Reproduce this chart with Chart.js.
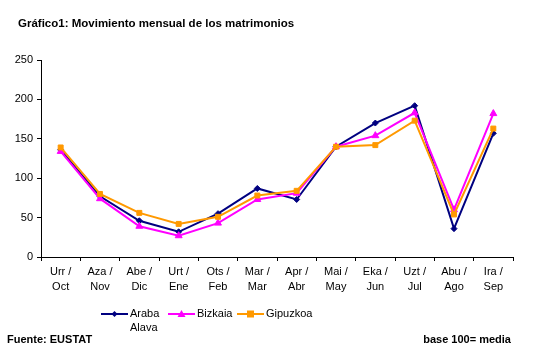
<!DOCTYPE html>
<html>
<head>
<meta charset="utf-8">
<script src="https://cdn.jsdelivr.net/npm/chart.js@4"></script>
<style>
  body { margin: 0; background: #fff; }
  #wrap { position: relative; width: 537px; height: 359px; font-family: "Liberation Sans", Arial, sans-serif; }
  #chart { position: absolute; left: 0; top: 0; }
  .txt { position: absolute; font-weight: bold; font-size: 11px; color: #000; white-space: nowrap; }
</style>
</head>
<body>
<div id="wrap">
  <canvas id="chart" width="537" height="359"></canvas>
  <div class="txt" style="left:18px; top:17px; font-size:11.5px;">Gráfico1: Movimiento mensual de los matrimonios</div>
  <div class="txt" style="left:7px; top:333px;">Fuente: EUSTAT</div>
  <div class="txt" style="right:26px; top:333px;">base 100= media</div>
</div>
<script>
// months: basque / spanish
const months = [
    ['Urr /', 'Oct'], ['Aza /', 'Nov'], ['Abe /', 'Dic'], ['Urt /', 'Ene'],
    ['Ots /', 'Feb'], ['Mar /', 'Mar'], ['Apr /', 'Abr'], ['Mai /', 'May'],
    ['Eka /', 'Jun'], ['Uzt /', 'Jul'], ['Abu /', 'Ago'], ['Ira /', 'Sep']
];

const arabaValues = [136, 77, 46, 32, 55, 87, 73, 140, 170, 192, 36, 157];
const bizkaiaValues = [134, 74, 39, 27, 43, 73, 81, 140, 154, 183, 60, 182];
const gipuzkoaValues = [139, 80, 56, 42, 51, 78, 84, 140, 142, 173, 54, 163];

const yTicks = [0, 50, 100, 150, 200, 250];

const seriesStyle = [
    { label: ['Araba', 'Alava'], color: '#000080', point: 'rectRot', radius: 3 },
    { label: ['Bizkaia'], color: '#FF00FF', point: 'triangle', radius: 4 },
    { label: ['Gipuzkoa'], color: '#FF9900', point: 'rect', radius: 3.5 }
];

// legend drawn by hand so "Araba / Alava" can wrap like the original
const legendPlugin = {
    id: 'customLegend',
    afterDraw(chart) {
        const ctx = chart.ctx;
        const xs = [101, 168, 237];
        const y = 314;
        ctx.save();
        ctx.font = '11px "Liberation Sans", Arial, sans-serif';
        ctx.textBaseline = 'middle';
        ctx.textAlign = 'left';
        seriesStyle.forEach((s, i) => {
            const x = xs[i];
            ctx.strokeStyle = s.color;
            ctx.lineWidth = 2;
            ctx.beginPath();
            ctx.moveTo(x, y);
            ctx.lineTo(x + 27, y);
            ctx.stroke();
            ctx.fillStyle = s.color;
            ctx.beginPath();
            const cx = x + 13.5;
            if (s.point === 'rectRot') {
                ctx.moveTo(cx, y - 3); ctx.lineTo(cx + 3, y); ctx.lineTo(cx, y + 3); ctx.lineTo(cx - 3, y);
            } else if (s.point === 'triangle') {
                ctx.moveTo(cx, y - 4); ctx.lineTo(cx + 4, y + 3); ctx.lineTo(cx - 4, y + 3);
            } else {
                ctx.rect(cx - 3.5, y - 3.5, 7, 7);
            }
            ctx.closePath();
            ctx.fill();
            ctx.fillStyle = '#000';
            s.label.forEach((t, j) => ctx.fillText(t, x + 29, y + j * 14));
        });
        ctx.restore();
    }
};

const datasets = [arabaValues, bizkaiaValues, gipuzkoaValues].map((values, i) => ({
    label: seriesStyle[i].label.join(' '),
    data: values,
    borderColor: seriesStyle[i].color,
    backgroundColor: seriesStyle[i].color,
    borderWidth: 2,
    pointStyle: seriesStyle[i].point,
    pointRadius: seriesStyle[i].radius,
    pointBorderWidth: 1,
    tension: 0,
    order: 3 - i
}));

const ctx = document.getElementById('chart').getContext('2d');
new Chart(ctx, {
    type: 'line',
    data: { labels: months, datasets: datasets },
    options: {
        responsive: false,
        animation: false,
        layout: { padding: { top: 60, right: 24, left: 0, bottom: 0 } },
        plugins: { legend: { display: false }, tooltip: { enabled: false } },
        scales: {
            x: {
                offset: true,
                grid: { display: true, drawOnChartArea: false, offset: true, color: '#000', tickLength: 4, tickWidth: 1 },
                border: { color: '#000', width: 1 },
                ticks: {
                    color: '#000',
                    font: { family: '"Liberation Sans", Arial, sans-serif', size: 11, lineHeight: 1.35 },
                    padding: 4,
                    maxRotation: 0,
                    autoSkip: false
                },
                afterFit(scale) { scale.height = 102; }
            },
            y: {
                min: 0,
                max: 250,
                afterBuildTicks(scale) { scale.ticks = yTicks.map(v => ({ value: v })); },
                grid: { display: true, drawOnChartArea: false, color: '#000', tickLength: 4, tickWidth: 1 },
                border: { color: '#000', width: 1 },
                ticks: {
                    color: '#000',
                    font: { family: '"Liberation Sans", Arial, sans-serif', size: 11 },
                    padding: 4
                },
                afterFit(scale) { scale.width = 41; }
            }
        }
    },
    plugins: [legendPlugin]
});
</script>
</body>
</html>
